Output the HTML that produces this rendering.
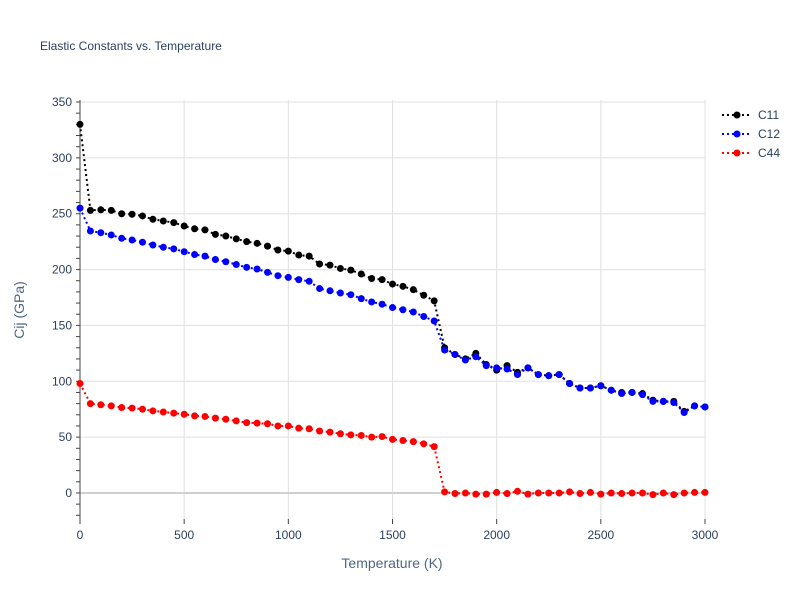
<!DOCTYPE html>
<html><head><meta charset="utf-8"><style>
body{margin:0;background:#fff;font-family:"Liberation Sans",sans-serif;}
text{font-family:"Liberation Sans",sans-serif;}
</style></head><body>
<svg id="chart" width="800" height="600" xmlns="http://www.w3.org/2000/svg">
<rect width="800" height="600" fill="#fff"/>
<text x="40" y="50" font-size="12" fill="#2a3f5f">Elastic Constants vs. Temperature</text>
<g id="grid"></g><g id="axes"></g><g id="series"></g><g id="legend"></g>
<text x="392" y="568" font-size="14" fill="#506784" text-anchor="middle">Temperature (K)</text>
<text transform="translate(24,310) rotate(-90)" font-size="14" fill="#506784" text-anchor="middle">Cij (GPa)</text>
</svg>
<script>
const temps=[];for(let t=0;t<=3000;t+=50)temps.push(t);
const c11=[330,253,253.5,253,250,249.5,248,245,243.5,242,239,236.5,235.5,231.5,230,227.5,225,223.5,221,217.5,216.5,213,212,205,204,201,199.5,196,192,191,187,185,182,177,172,130,124,120,125,115,110,114,108,112,106,105,106,98,94,94,96,92,90,90,89,83,82,82,73,78,77];
const c12=[255,234.5,233,231,228,226.5,224.5,222,220,218.5,216,213.5,212,209,207,204.5,202,200.5,197.5,194.5,193,191,189.5,183,181,179,177.5,174,171,169,166,164,162,158,154,128,124,119,122,114,112,111,106,112,106,105,106,98,94,94,96,92,89,90,88,82,82,81,72,78,77];
const c44=[98,80,79,78,76.5,76,75,73.5,72.5,71.5,70.5,69,68.5,67,66,64.5,63,62.5,62,60,60,58,57.5,55.5,54.5,53,52,51.5,50,50.5,48,47,46,44,41.5,1,-0.5,0,-1,-1,0.5,-0.5,1.5,-1,0,0,0,1,-0.5,0.5,-1,0,-0.5,0,0,-1.5,0,-1.5,0,0.5,0.5];
const xTicks=[0,500,1000,1500,2000,2500,3000];
const yTicks=[0,50,100,150,200,250,300,350];
const seriesNames=["C11","C12","C44"];
const X0=80,X1=705,Y0=519,Y1=100,xmin=0,xmax=3000,ymin=-23.3,ymax=351.8;
const sx=v=>X0+(v-xmin)/(xmax-xmin)*(X1-X0);
const sy=v=>Y0-(v-ymin)/(ymax-ymin)*(Y0-Y1);
const NS="http://www.w3.org/2000/svg";
function mk(tag,parent,attrs){const e=document.createElementNS(NS,tag);for(const k in attrs)e.setAttribute(k,attrs[k]);document.getElementById(parent).appendChild(e);return e;}
xTicks.forEach(t=>{
 const l=mk('line','grid',{x1:sx(t),x2:sx(t),y1:Y1,y2:Y0,stroke:'#e0e0e0','stroke-width':1});
 
 
 const tk=mk('line','axes',{x1:sx(t),x2:sx(t),y1:Y0,y2:Y0+5,stroke:'#444'});
 
 
 const tx=mk('text','axes',{x:sx(t),y:Y0+20,'font-size':12,fill:'#2a3f5f','text-anchor':'middle'});tx.textContent=t;
 
 
});
yTicks.forEach(t=>{
 const l=mk('line','grid',{x1:X0,x2:X1,y1:sy(t),y2:sy(t),stroke:t===0?'#d0d0d0':'#e0e0e0','stroke-width':t===0?2:1});
 
 
 const tx=mk('text','axes',{x:X0-8,y:sy(t)+4,'font-size':12,fill:'#2a3f5f','text-anchor':'end'});tx.textContent=t;
 
 
});
for(let v=-20;v<=350;v+=10){const m=mk('line','axes',{x1:X0-4,x2:X0,y1:sy(v),y2:sy(v),stroke:'#444'});
 
 }
const ax=mk('line','axes',{x1:X0,x2:X0,y1:Y1,y2:Y0,stroke:'#444','stroke-width':1});


const colors=['#000000','#0000ff','#ff0000'];
[c11,c12,c44].forEach((d,i)=>{
 const pts=d.map((v,j)=>sx(temps[j])+','+sy(v)).join(' ');
 const pl=mk('polyline','series',{points:pts,fill:'none',stroke:colors[i],'stroke-width':2,'stroke-dasharray':'2,3'});
 
 
 d.forEach((v,j)=>{const c=mk('circle','series',{cx:sx(temps[j]),cy:sy(v),r:3.5,fill:colors[i]});
  
  });
 const ly=115+i*19;
 const ll=mk('line','legend',{x1:722,x2:752,y1:ly,y2:ly,stroke:colors[i],'stroke-width':2,'stroke-dasharray':'2,3'});
 
 
 const lc=mk('circle','legend',{cx:737,cy:ly,r:3.5,fill:colors[i]});
 
 
 const lt=mk('text','legend',{x:758,y:ly+4,'font-size':12,fill:'#2a3f5f'});lt.textContent=seriesNames[i];
 
 
});
</script>
</body></html>
